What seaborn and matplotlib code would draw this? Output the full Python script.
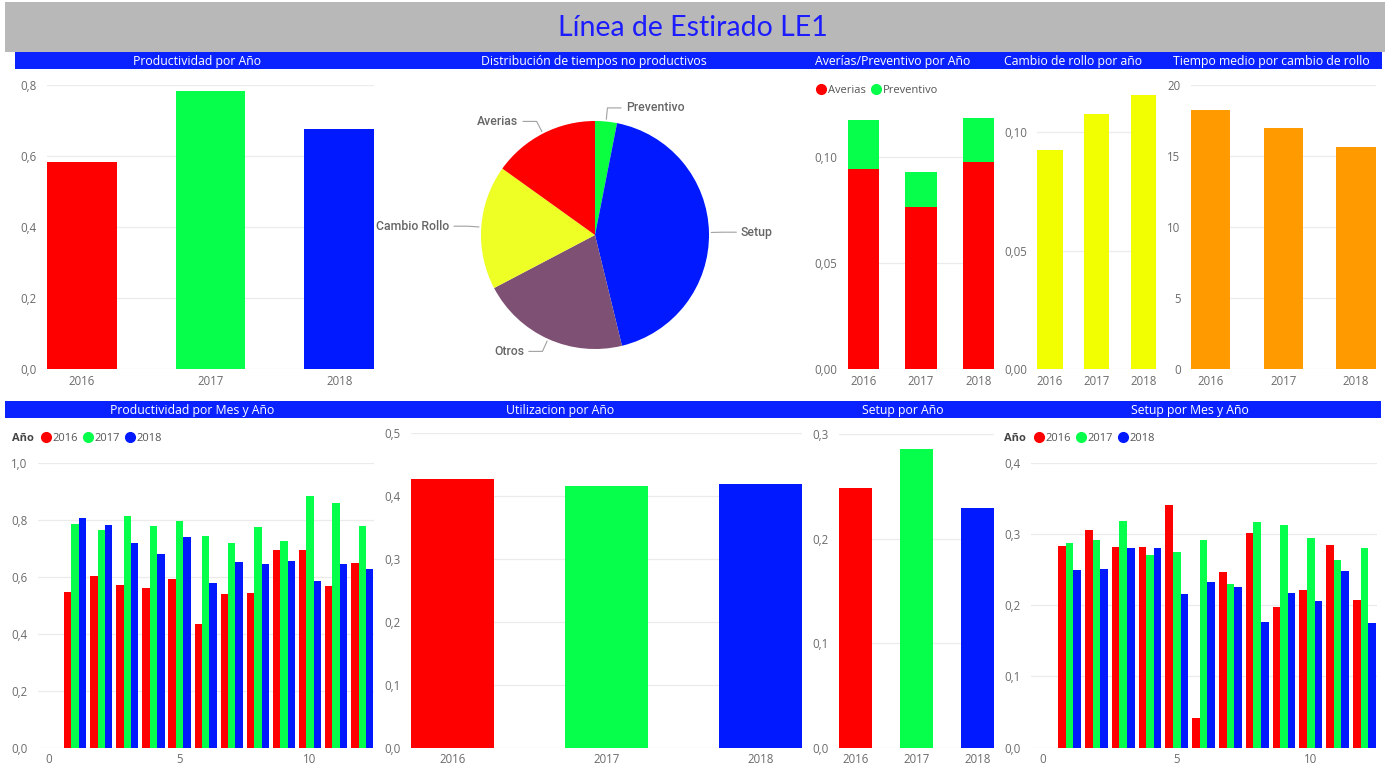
import numpy as np
import pandas as pd
import matplotlib
matplotlib.use("Agg")
import matplotlib.pyplot as plt
import seaborn as sns
from matplotlib.patches import Rectangle
from matplotlib.lines import Line2D
from matplotlib.ticker import FuncFormatter, FixedLocator

# ---------------------------------------------------------------- data
YEARS = ["2016", "2017", "2018"]
MESES = list(range(1, 13))

productividad_anual = [0.582, 0.784, 0.675]
averias_anual = [0.0942, 0.0762, 0.0973]
preventivo_anual = [0.0230, 0.0168, 0.0207]
cambio_rollo_anual = [0.0927, 0.1077, 0.1156]
tiempo_medio_cambio = [18.25, 16.97, 15.61]
utilizacion_anual = [0.427, 0.416, 0.420]
setup_anual = [0.2485, 0.2854, 0.229]

pie_categorias = ["Preventivo", "Setup", "Otros", "Cambio Rollo", "Averias"]
pie_valores = [3.1, 43.1, 21.1, 17.6, 15.1]

prod_mes_2016 = [0.546, 0.601, 0.572, 0.560, 0.592, 0.434, 0.539, 0.543, 0.695, 0.695, 0.566, 0.649]
prod_mes_2017 = [0.785, 0.763, 0.813, 0.778, 0.794, 0.743, 0.720, 0.774, 0.724, 0.884, 0.858, 0.778]
prod_mes_2018 = [0.805, 0.781, 0.718, 0.678, 0.739, 0.578, 0.653, 0.643, 0.656, 0.585, 0.643, 0.627]

setup_mes_2016 = [0.283, 0.305, 0.282, 0.282, 0.340, 0.041, 0.247, 0.302, 0.198, 0.221, 0.285, 0.207]
setup_mes_2017 = [0.288, 0.291, 0.318, 0.271, 0.274, 0.291, 0.230, 0.317, 0.313, 0.294, 0.263, 0.280]
setup_mes_2018 = [0.249, 0.251, 0.280, 0.280, 0.216, 0.233, 0.225, 0.176, 0.217, 0.206, 0.248, 0.175]

# ---------------------------------------------------------------- style
RED, GREEN, BLUE = "#ff0000", "#05ff4b", "#0019ff"
YELLOW, ORANGE = "#f2ff00", "#ff9b00"
PIE_COLORS = ["#0aff40", "#0019ff", "#7e5074", "#eeff25", "#ff0000"]
YEAR_PALETTE = dict(zip(YEARS, [RED, GREEN, BLUE]))
BAND = "#0a22ff"
GRID = "#ebebeb"
TICK = "#6b6b6b"
FS = 8.3
FS_HEAD = 8.8

sns.set_theme(style="white")
plt.rcParams["font.family"] = ["Open Sans", "DejaVu Sans"]

W, H = 1392, 769
fig = plt.figure(figsize=(W / 100, H / 100), dpi=100)
fig.patch.set_facecolor("white")


def add_px_axes(x0, y0, x1, y1):
    return fig.add_axes([x0 / W, 1 - y1 / H, (x1 - x0) / W, (y1 - y0) / H])


def px_rect(x0, y0, x1, y1, color):
    fig.patches.append(Rectangle((x0 / W, 1 - y1 / H), (x1 - x0) / W, (y1 - y0) / H,
                                 transform=fig.transFigure, color=color, lw=0, zorder=0))


def fig_text(x, y, s, **kw):
    fig.text(x / W, 1 - y / H, s, **kw)


def style_axes(ax, ylim, yticks, decimals):
    ax.set_ylim(*ylim)
    ax.yaxis.set_major_locator(FixedLocator(yticks))
    ax.yaxis.set_major_formatter(
        FuncFormatter(lambda v, p: f"{v:.{decimals}f}".replace(".", ",")))
    ax.grid(axis="y", color=GRID, lw=0.9)
    ax.grid(axis="x", visible=False)
    ax.set_axisbelow(True)
    for s in ax.spines.values():
        s.set_visible(False)
    ax.tick_params(axis="y", length=0, pad=7.5, labelsize=FS, labelcolor=TICK)
    ax.tick_params(axis="x", length=0, pad=4, labelsize=FS, labelcolor=TICK)
    ax.set_xlabel("")
    ax.set_ylabel("")
    ax.set_facecolor("none")


def year_bars(ax, values, colors):
    df = pd.DataFrame({"anio": YEARS, "valor": values})
    sns.barplot(data=df, x="anio", y="valor", hue="anio", palette=dict(zip(YEARS, colors)),
                width=0.54, saturation=1, legend=False, errorbar=None, linewidth=0, ax=ax)
    ax.set_xlim(-0.27, 2.27)


def month_bars(ax, s16, s17, s18):
    df = pd.DataFrame({
        "mes": MESES * 3,
        "anio": [y for y in YEARS for _ in MESES],
        "valor": list(s16) + list(s17) + list(s18),
    })
    sns.barplot(data=df, x="mes", y="valor", hue="anio", hue_order=YEARS, palette=YEAR_PALETTE,
                native_scale=True, width=0.85, saturation=1, legend=False, errorbar=None,
                linewidth=0, ax=ax)
    ax.xaxis.set_major_locator(FixedLocator([0, 5, 10]))
    ax.xaxis.set_major_formatter(FuncFormatter(lambda v, p: f"{v:.0f}"))


def dot_legend(x, y, labels, colors):
    handles = [Line2D([], [], marker="o", ls="", color=c, markersize=7) for c in colors]
    fig.legend(handles, labels, loc="center left", bbox_to_anchor=(x / W, 1 - y / H),
               ncol=len(labels), frameon=False, fontsize=8, labelcolor="#555555",
               handlelength=0.7, handletextpad=0.25, columnspacing=0.55,
               borderpad=0, borderaxespad=0)


# ---------------------------------------------------------------- header
px_rect(4.5, 2, 1385, 52, "#b8b8b8")
fig_text(693, 28, "Línea de Estirado LE1", ha="center", va="center", fontsize=20.5,
         color="#1c1cff", family=["Lato", "DejaVu Sans"], fontweight="normal")

px_rect(15, 52.5, 1382, 69.3, BAND)
px_rect(4.5, 401, 1381, 418.3, BAND)
for x, t in [(197, "Productividad por Año"), (594, "Distribución de tiempos no productivos"),
             (893, "Averías/Preventivo por Año"), (1073, "Cambio de rollo por año"),
             (1271, "Tiempo medio por cambio de rollo")]:
    fig_text(x, 61, t, ha="center", va="center", fontsize=FS_HEAD, color="white")
for x, t in [(192.5, "Productividad por Mes y Año"), (560, "Utilizacion por Año"),
             (903, "Setup por Año"), (1190, "Setup por Mes y Año")]:
    fig_text(x, 410, t, ha="center", va="center", fontsize=FS_HEAD, color="white")

# ---------------------------------------------------------------- top row
ax = add_px_axes(47, 85, 374, 369.3)
year_bars(ax, productividad_anual, [RED, GREEN, BLUE])
style_axes(ax, (0, 0.8), [0, 0.2, 0.4, 0.6, 0.8], 1)

# pie of non-productive time
ax = add_px_axes(381, 70, 809, 400)
wedges, _ = ax.pie(pie_valores, colors=PIE_COLORS, startangle=90, counterclock=False,
                   radius=1, wedgeprops=dict(linewidth=0))
ax.set_xlim(-1.877, 1.877)
ax.set_ylim(-1.447, 1.447)
ax.set_aspect("equal")
ax.axis("off")
for w, name in zip(wedges, pie_categorias):
    ang = np.deg2rad((w.theta1 + w.theta2) / 2)
    c, s = np.cos(ang), np.sin(ang)
    side = 1 if c >= 0 else -1
    p1 = (1.02 * c, 1.02 * s)
    p2 = (1.12 * c, 1.12 * s)
    p3 = (p2[0] + side * 0.12, p2[1])
    ax.plot([p1[0], p2[0], p3[0]], [p1[1], p2[1], p3[1]], color="#a0a0a0", lw=0.8,
            clip_on=False)
    ax.text(p3[0] + side * 0.04, p3[1], name, ha="left" if side > 0 else "right",
            va="center", fontsize=FS_HEAD, color="#666666", family=["Roboto", "DejaVu Sans"],
            fontweight="medium")

# breakdowns stacked with preventive maintenance
ax = add_px_axes(848, 103.5, 994, 369.3)
totales = [a + p for a, p in zip(averias_anual, preventivo_anual)]
sns.barplot(x=YEARS, y=totales, color=GREEN, width=0.54, saturation=1, errorbar=None,
            linewidth=0, ax=ax)
sns.barplot(x=YEARS, y=averias_anual, color=RED, width=0.54, saturation=1, errorbar=None,
            linewidth=0, ax=ax)
ax.set_xlim(-0.27, 2.27)
style_axes(ax, (0, 0.125), [0, 0.05, 0.10], 2)
dot_legend(817.5, 90.7, ["Averias", "Preventivo"], [RED, GREEN])

ax = add_px_axes(1037.3, 84.9, 1156, 369.3)
year_bars(ax, cambio_rollo_anual, [YELLOW] * 3)
style_axes(ax, (0, 0.12), [0, 0.05, 0.10], 2)

ax = add_px_axes(1191, 85, 1375.7, 369.3)
year_bars(ax, tiempo_medio_cambio, [ORANGE] * 3)
style_axes(ax, (0, 20), [0, 5, 10, 15, 20], 0)

# ---------------------------------------------------------------- bottom row
ax = add_px_axes(38, 462.7, 374, 747.7)
month_bars(ax, prod_mes_2016, prod_mes_2017, prod_mes_2018)
style_axes(ax, (0, 1.0), [0, 0.2, 0.4, 0.6, 0.8, 1.0], 1)
ax.set_xlim(-0.421, 12.45)
fig_text(12, 438.5, "Año", ha="left", va="center", fontsize=8, color="#444444",
         fontweight="bold")
dot_legend(41.8, 438.5, YEARS, [RED, GREEN, BLUE])

ax = add_px_axes(410.7, 433.3, 802.3, 747.7)
year_bars(ax, utilizacion_anual, [RED, GREEN, BLUE])
style_axes(ax, (0, 0.5), [0, 0.1, 0.2, 0.3, 0.4, 0.5], 1)

ax = add_px_axes(839, 434, 994, 747.7)
year_bars(ax, setup_anual, [RED, GREEN, BLUE])
style_axes(ax, (0, 0.3), [0, 0.1, 0.2, 0.3], 1)

ax = add_px_axes(1030.7, 462.7, 1376.7, 747.7)
month_bars(ax, setup_mes_2016, setup_mes_2017, setup_mes_2018)
style_axes(ax, (0, 0.4), [0, 0.1, 0.2, 0.3, 0.4], 1)
ax.set_xlim(-0.448, 12.46)
fig_text(1004.3, 438.5, "Año", ha="left", va="center", fontsize=8, color="#444444",
         fontweight="bold")
dot_legend(1035, 438.5, YEARS, [RED, GREEN, BLUE])

fig.savefig("out.png", dpi=100, facecolor="white")
